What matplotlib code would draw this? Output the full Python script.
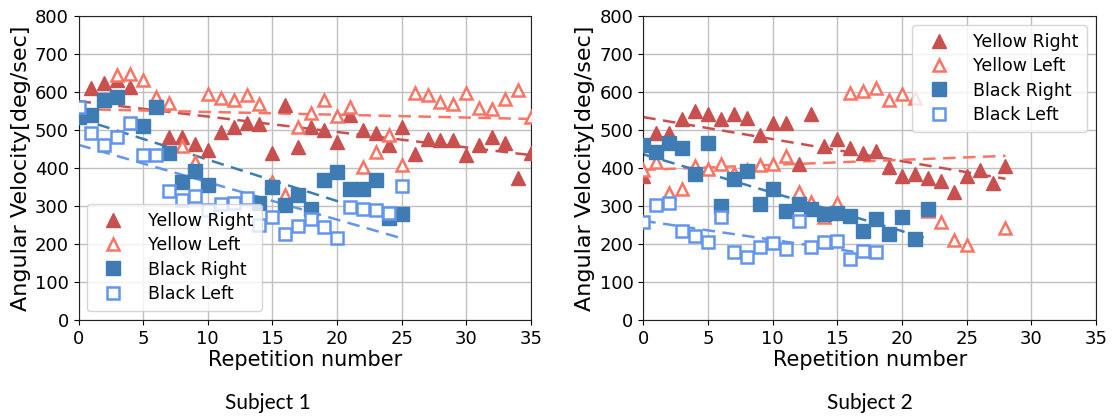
import numpy as np
import matplotlib
matplotlib.use("Agg")
import matplotlib.pyplot as plt

# ---------------- data ----------------
# Subject 1
s1_yr_x = [1, 2, 3, 4, 7, 8, 9, 10, 11, 12, 13, 14, 15, 16, 17, 18, 19, 20, 21, 22, 23, 24, 25,
           26, 27, 28, 29, 30, 31, 32, 33, 34, 35]
s1_yr_y = [610, 623, 632, 614, 482, 482, 463, 447, 495, 509, 518, 515, 439, 566, 456, 509, 500, 469,
           539, 500, 491, 461, 509, 437, 476, 474, 474, 434, 461, 482, 467, 373, 440]
s1_yl_x = [3, 4, 5, 6, 7, 8, 9, 10, 11, 12, 13, 14, 15, 16, 17, 18, 19, 20, 21, 22, 23, 24, 25,
           26, 27, 28, 29, 30, 31, 32, 33, 34, 35]
s1_yl_y = [645, 647, 632, 588, 570, 459, 416, 594, 585, 579, 592, 568, 362, 329, 507, 546, 579, 538,
           561, 403, 443, 487, 408, 598, 592, 575, 568, 598, 557, 554, 582, 605, 535]
s1_br_x = [0, 1, 2, 3, 5, 6, 7, 8, 9, 10, 14, 15, 16, 17, 18, 19, 20, 21, 22, 23, 24, 25]
s1_br_y = [535, 539, 579, 588, 511, 561, 439, 362, 393, 354, 307, 350, 303, 328, 293, 368, 390, 345,
           345, 368, 268, 278]
s1_bl_x = list(range(0, 26))
s1_bl_y = [560, 493, 461, 482, 518, 434, 434, 340, 317, 327, 290, 305, 309, 320, 250, 270, 226, 248,
           265, 245, 215, 298, 292, 289, 282, 353]

# Subject 2
s2_yr_x = list(range(0, 29))
s2_yr_y = [378, 491, 491, 528, 550, 541, 528, 541, 531, 487, 518, 518, 410, 541, 458, 476, 452, 439,
           445, 403, 379, 385, 375, 366, 337, 379, 394, 360, 406]
s2_yl_x = list(range(0, 26)) + [28]
s2_yl_y = [396, 416, 334, 345, 406, 397, 410, 388, 395, 408, 410, 432, 336, 310, 270, 309, 598, 603,
           610, 579, 596, 585, 287, 259, 210, 197, 241]
s2_br_x = list(range(0, 23))
s2_br_y = [460, 443, 467, 452, 385, 465, 299, 371, 391, 305, 346, 287, 305, 292, 279, 281, 274, 233,
           266, 226, 272, 213, 293]
s2_bl_x = list(range(0, 19))
s2_bl_y = [258, 303, 307, 235, 222, 204, 272, 178, 167, 193, 203, 187, 261, 191, 204, 209, 161, 182, 178]

# dashed trend lines as shown in the chart: value at x=0 and slope per repetition
s1_trend_intercept = [576, 555, 531, 461]
s1_trend_slope = [-4.06, -0.74, -10.9, -9.84]
s2_trend_intercept = [534, 395, 436, 261]
s2_trend_slope = [-5.8, 1.32, -10.1, -5.0]

series_names = ["Yellow Right", "Yellow Left", "Black Right", "Black Left"]
subjects = ["Subject 1", "Subject 2"]
x_ticks = [0, 5, 10, 15, 20, 25, 30, 35]
y_ticks = [0, 100, 200, 300, 400, 500, 600, 700, 800]

# ---------------- style ----------------
colors = ["#c8504f", "#fa7565", "#3f7cb3", "#6495ed"]
markers = ["^", "^", "s", "s"]
filled = [True, False, True, False]

fig = plt.figure(figsize=(11.12, 4.16), dpi=100)
ax1 = fig.add_axes([0.0706, 0.2308, 0.4069, 0.7307])
ax2 = fig.add_axes([0.5785, 0.2308, 0.4071, 0.7307])

data = [
    [(s1_yr_x, s1_yr_y), (s1_yl_x, s1_yl_y), (s1_br_x, s1_br_y), (s1_bl_x, s1_bl_y)],
    [(s2_yr_x, s2_yr_y), (s2_yl_x, s2_yl_y), (s2_br_x, s2_br_y), (s2_bl_x, s2_bl_y)],
]
trends = [(s1_trend_intercept, s1_trend_slope), (s2_trend_intercept, s2_trend_slope)]
legend_locs = ["lower left", "upper right"]

for ax, dset, (t_int, t_slope), lloc in zip([ax1, ax2], data, trends, legend_locs):
    ax.set_axisbelow(True)
    ax.grid(True, color="#c0c0c0", linewidth=1.0)
    handles = []
    for i, (xs, ys) in enumerate(dset):
        xs = np.asarray(xs, dtype=float)
        xl = np.array([0.0, xs.max()])
        ax.plot(xl, t_int[i] + t_slope[i] * xl, linestyle=(0, (5, 3)), color=colors[i],
                linewidth=1.8, zorder=2)
    for i, (xs, ys) in enumerate(dset):
        if filled[i]:
            h, = ax.plot(xs, ys, linestyle="none", marker=markers[i], markersize=10,
                         color=colors[i], markeredgecolor=colors[i], zorder=3,
                         label=series_names[i])
        else:
            h, = ax.plot(xs, ys, linestyle="none", marker=markers[i], markersize=9,
                         markerfacecolor="white", markeredgecolor=colors[i],
                         markeredgewidth=1.8, zorder=3, label=series_names[i])
        handles.append(h)
    ax.set_xlim(0, 35)
    ax.set_ylim(0, 800)
    ax.set_xticks(x_ticks)
    ax.set_yticks(y_ticks)
    ax.tick_params(labelsize=13)
    ax.set_xlabel("Repetition number", fontsize=15, labelpad=2)
    ax.set_ylabel("Angular Velocity[deg/sec]", fontsize=16, labelpad=3)
    ax.legend(handles=handles, loc=lloc, fontsize=12.5, numpoints=1, handletextpad=1.0,
              borderpad=0.5, labelspacing=0.35)
    for sp in ax.spines.values():
        sp.set_color("#222222")

fig.text(268 / 1112, 1 - 403 / 416, subjects[0], fontsize=15, family="Lato",
         ha="center", va="center")
fig.text(870 / 1112, 1 - 403 / 416, subjects[1], fontsize=15, family="Lato",
         ha="center", va="center")

fig.savefig("out.png", dpi=100)
